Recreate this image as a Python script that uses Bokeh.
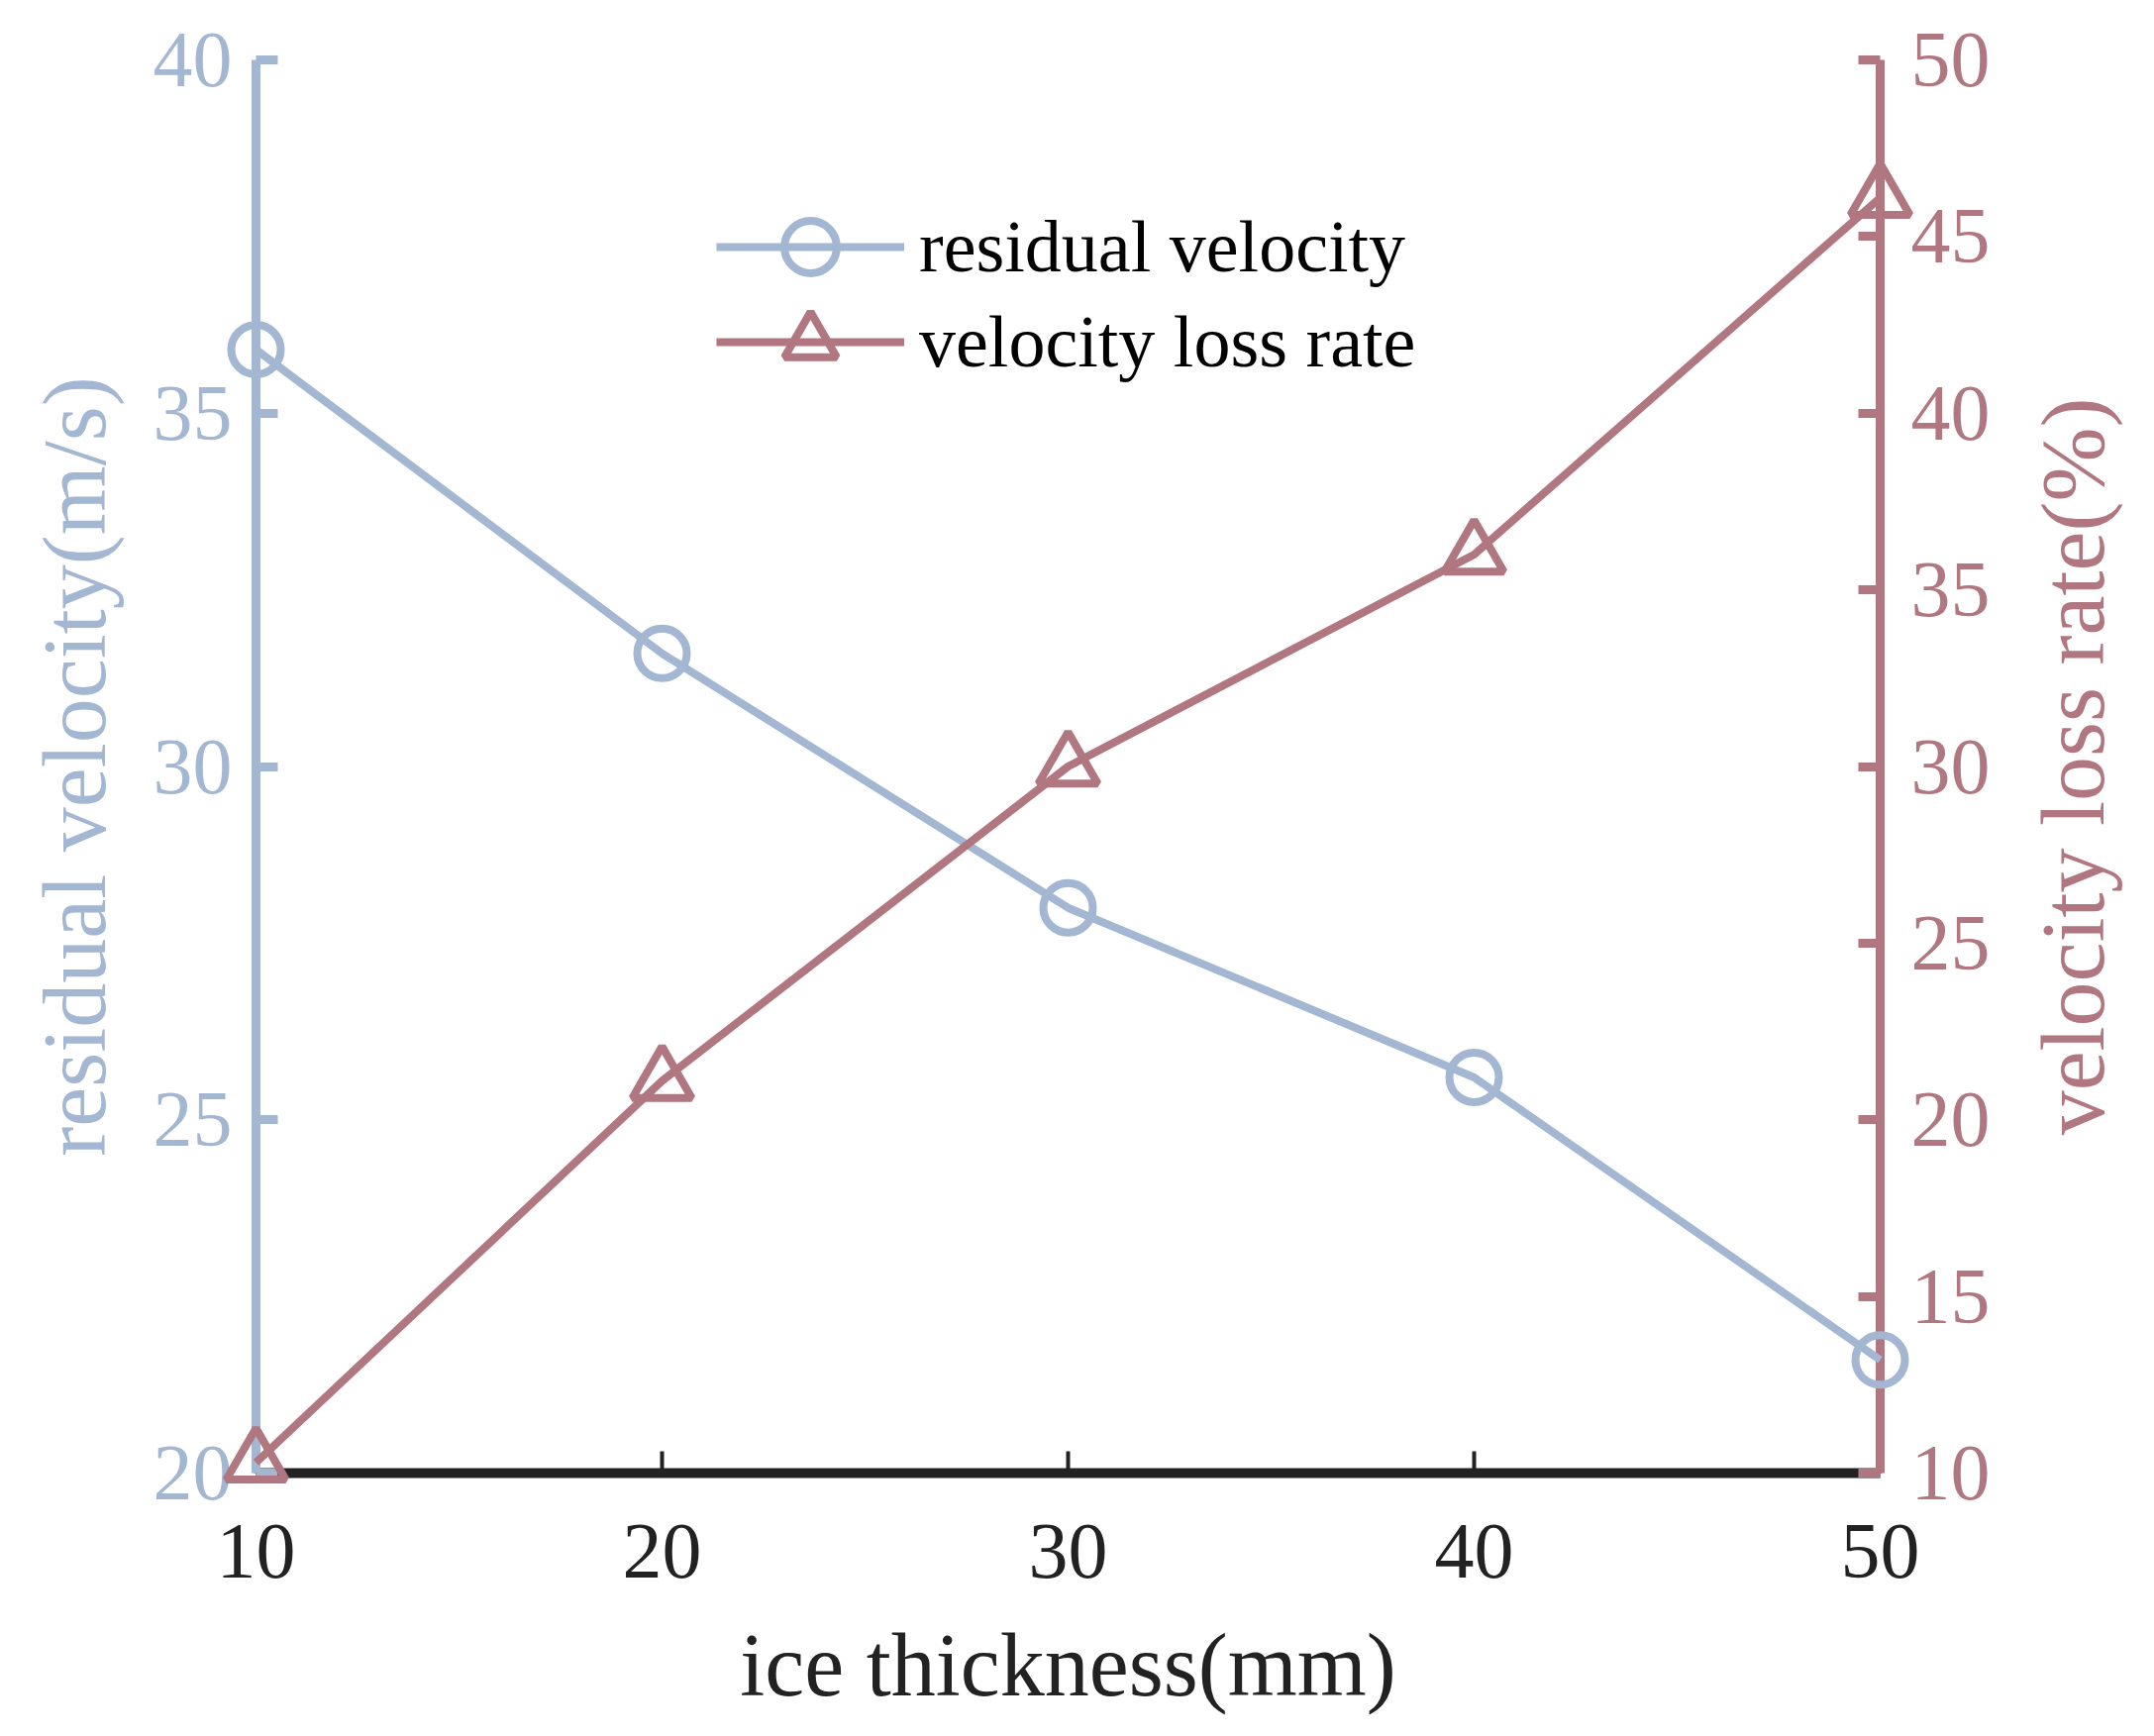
import math
from bokeh.plotting import figure
from bokeh.models import Range1d, LinearAxis, FixedTicker, Legend, LegendItem
from bokeh.core.properties import value
from bokeh.embed import file_html
from bokeh.resources import INLINE

# ---- data ----
thickness = [10, 20, 30, 40, 50]
residual_velocity = [35.9, 31.6, 28.0, 25.6, 21.6]
velocity_loss_rate = [10.3, 21.1, 30.0, 36.0, 46.1]
x_ticks = [10, 20, 30, 40, 50]
left_ticks = [20, 25, 30, 35, 40]
right_ticks = [10, 15, 20, 25, 30, 35, 40, 45, 50]
x_title = "ice thickness(mm)"
left_title = "residual velocity(m/s)"
right_title = "velocity loss rate(%)"
series_names = ["residual velocity", "velocity loss rate"]

BLUE = "#A3B6D2"
MAUVE = "#B17780"
BLACK = "#222222"
FONT = "Liberation Serif"

X0, X1 = 10, 50
Y0, Y1 = 20, 40
FRAME_W, FRAME_H = 1640, 1427

p = figure(width=2159, height=1737, output_backend="svg", toolbar_location=None,
           x_range=Range1d(X0, X1), y_range=Range1d(Y0, Y1),
           min_border_left=258, min_border_right=261, min_border_top=60, min_border_bottom=250)
p.extra_y_ranges = {"right": Range1d(10, 50)}
p.grid.visible = False
p.outline_line_color = None
p.background_fill_color = "white"

px_x = FRAME_W / (X1 - X0)   # pixels per x unit
px_y = FRAME_H / (Y1 - Y0)   # pixels per left-y unit

# x axis
xa = p.xaxis[0]
xa.ticker = FixedTicker(ticks=x_ticks)
xa.axis_line_color = BLACK
xa.axis_line_width = 10
xa.major_tick_line_color = BLACK
xa.major_tick_line_width = 4
xa.major_tick_in = 22
xa.major_tick_out = 0
xa.minor_tick_line_color = None
xa.major_label_text_font = FONT
xa.major_label_text_font_size = "80px"
xa.major_label_text_color = BLACK
xa.major_label_standoff = 52

# left axis
ya = p.yaxis[0]
ya.ticker = FixedTicker(ticks=left_ticks)
ya.axis_label = left_title
ya.axis_line_color = BLUE
ya.major_tick_line_color = BLUE
ya.major_label_text_color = BLUE
ya.axis_label_text_color = BLUE
ya.major_label_standoff = 24
ya.axis_label_standoff = 27

# right axis
ra = LinearAxis(y_range_name="right", ticker=FixedTicker(ticks=right_ticks))
ra.axis_line_color = MAUVE
ra.major_tick_line_color = MAUVE
ra.major_label_text_color = MAUVE
ra.major_label_standoff = 31
p.add_layout(ra, "right")

for ax in [ya, ra]:
    ax.axis_line_width = 9
    ax.major_tick_line_width = 9
    ax.major_tick_in = 22
    ax.major_tick_out = 0
    ax.minor_tick_line_color = None
    ax.major_label_text_font = FONT
    ax.major_label_text_font_size = "80px"
    ax.axis_label_text_font = FONT
    ax.axis_label_text_font_size = "90px"
    ax.axis_label_text_font_style = "normal"

# axis titles drawn as text glyphs outside the frame (overlay level is not clipped)
t1 = p.text(x=[(X0 + X1) / 2], y=[Y0 - 194 / px_y], text=[x_title],
            text_align="center", text_baseline="alphabetic",
            text_font=value(FONT), text_font_size=value("90px"), text_color=BLACK)
t2 = p.text(x=[X1 + 195 / px_x], y=[(Y0 + Y1) / 2], text=[right_title], angle=math.pi / 2,
            text_align="center", text_baseline="alphabetic",
            text_font=value(FONT), text_font_size=value("90px"), text_color=MAUVE)

# series
l1 = p.line(thickness, residual_velocity, line_color=BLUE, line_width=8)
m1 = p.scatter(thickness, residual_velocity, marker="circle", size=50,
               fill_alpha=0, line_color=BLUE, line_width=8)
l2 = p.line(thickness, velocity_loss_rate, line_color=MAUVE, line_width=8, y_range_name="right")
m2 = p.scatter(thickness, velocity_loss_rate, marker="triangle", size=60,
               fill_alpha=0, line_color=MAUVE, line_width=8, y_range_name="right")
for r in [t1, t2, l1, m1, l2, m2]:
    r.level = "overlay"

# legend: one box per row so that rows can sit closer than the glyph height
for name, rends, loc in [(series_names[0], [l1, m1], (465, 1172)),
                         (series_names[1], [l2, m2], (465, 1076))]:
    lg = Legend(items=[LegendItem(label=name, renderers=rends)], location=loc)
    lg.border_line_color = None
    lg.background_fill_alpha = 0
    lg.padding = 0
    lg.margin = 0
    lg.glyph_width = 190
    lg.glyph_height = 132
    lg.label_height = 132
    lg.label_standoff = 15
    lg.label_text_font = FONT
    lg.label_text_font_size = "74px"
    lg.label_text_color = "black"
    p.add_layout(lg, "center")

open("out.html", "w").write(file_html(p, INLINE))
